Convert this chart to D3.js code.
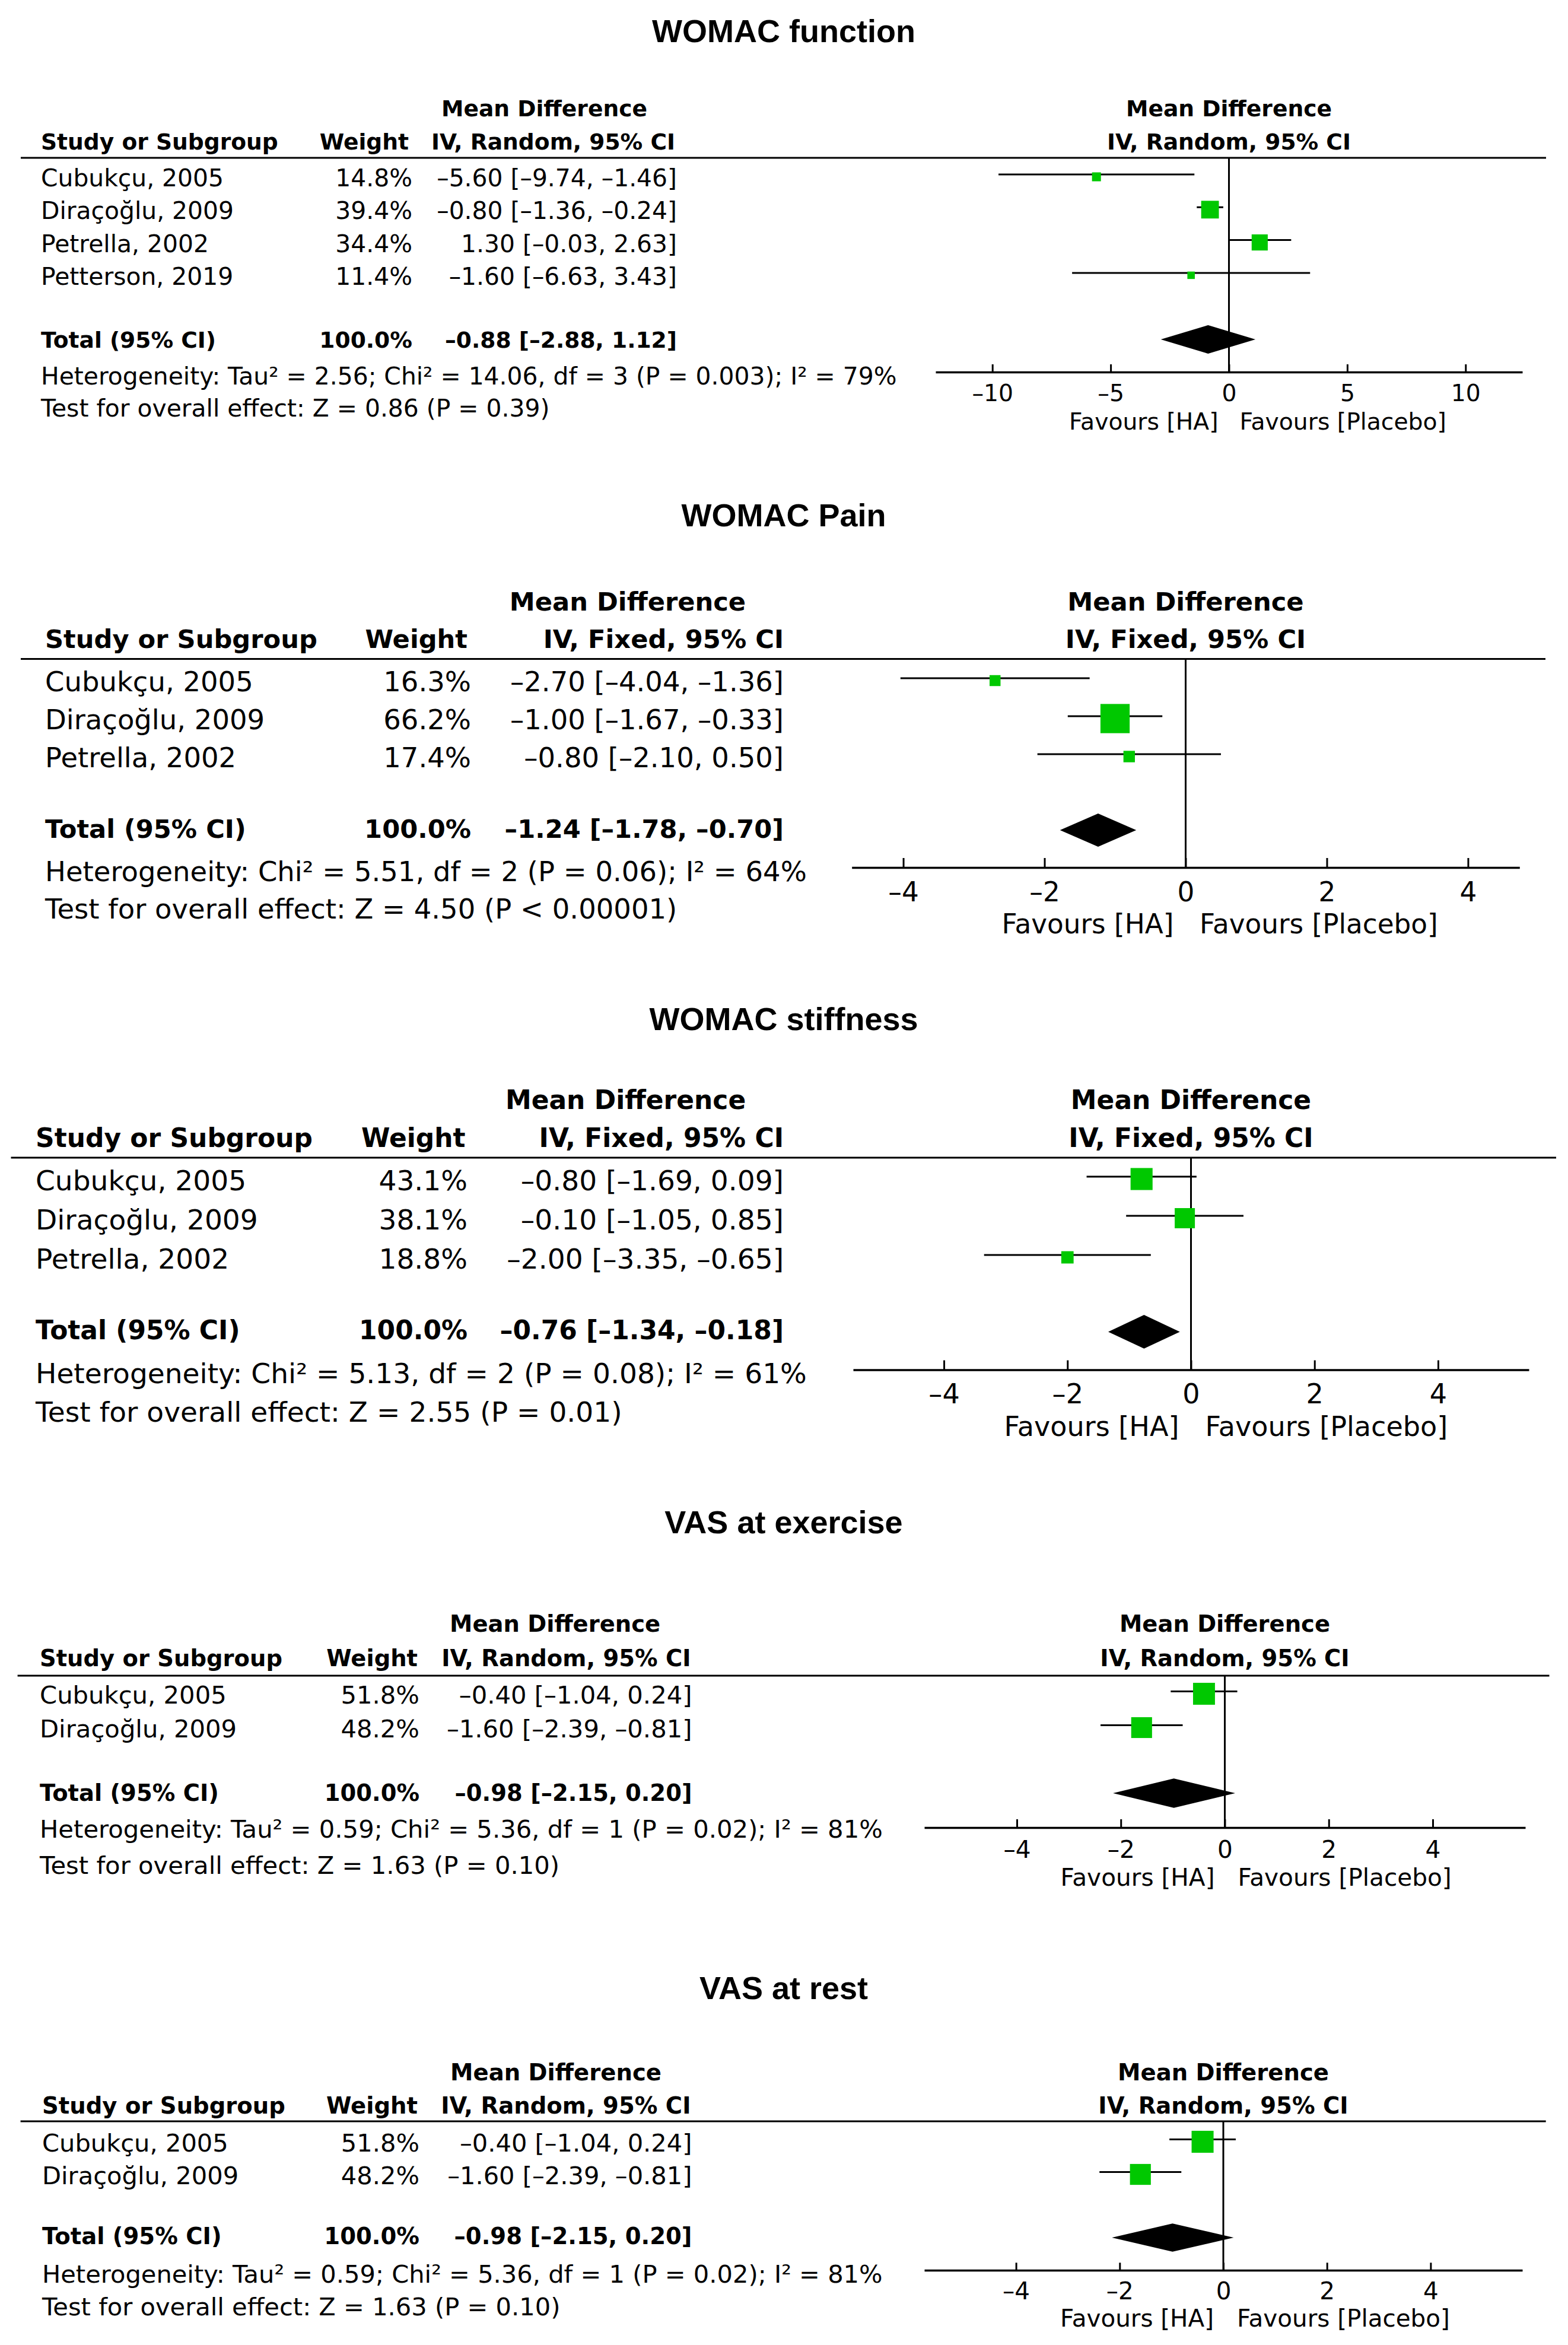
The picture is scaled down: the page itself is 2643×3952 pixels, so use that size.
<!DOCTYPE html>
<html><head><meta charset="utf-8">
<script src="https://cdn.jsdelivr.net/npm/d3@7"></script>
<style>body{margin:0;background:#fff}svg{display:block}</style>
</head><body>
<svg id="chart" width="2643" height="3952"></svg>
<script>
// ---------------- DATA ----------------
const titles = ["WOMAC function", "WOMAC Pain", "WOMAC stiffness", "VAS at exercise", "VAS at rest"];
const models = ["IV, Random, 95% CI", "IV, Fixed, 95% CI", "IV, Fixed, 95% CI", "IV, Random, 95% CI", "IV, Random, 95% CI"];

const studies1 = ["Cubukçu, 2005", "Diraçoğlu, 2009", "Petrella, 2002", "Petterson, 2019"];
const weights1 = [14.8, 39.4, 34.4, 11.4];
const md1 = [-5.60, -0.80, 1.30, -1.60];
const lo1 = [-9.74, -1.36, -0.03, -6.63];
const hi1 = [-1.46, -0.24, 2.63, 3.43];
const total1 = [-0.88, -2.88, 1.12];
const het1 = "Heterogeneity: Tau² = 2.56; Chi² = 14.06, df = 3 (P = 0.003); I² = 79%";
const test1 = "Test for overall effect: Z = 0.86 (P = 0.39)";
const ticks1 = [-10, -5, 0, 5, 10];

const studies2 = ["Cubukçu, 2005", "Diraçoğlu, 2009", "Petrella, 2002"];
const weights2 = [16.3, 66.2, 17.4];
const md2 = [-2.70, -1.00, -0.80];
const lo2 = [-4.04, -1.67, -2.10];
const hi2 = [-1.36, -0.33, 0.50];
const total2 = [-1.24, -1.78, -0.70];
const het2 = "Heterogeneity: Chi² = 5.51, df = 2 (P = 0.06); I² = 64%";
const test2 = "Test for overall effect: Z = 4.50 (P < 0.00001)";
const ticks2 = [-4, -2, 0, 2, 4];

const studies3 = ["Cubukçu, 2005", "Diraçoğlu, 2009", "Petrella, 2002"];
const weights3 = [43.1, 38.1, 18.8];
const md3 = [-0.80, -0.10, -2.00];
const lo3 = [-1.69, -1.05, -3.35];
const hi3 = [0.09, 0.85, -0.65];
const total3 = [-0.76, -1.34, -0.18];
const het3 = "Heterogeneity: Chi² = 5.13, df = 2 (P = 0.08); I² = 61%";
const test3 = "Test for overall effect: Z = 2.55 (P = 0.01)";
const ticks3 = [-4, -2, 0, 2, 4];

const studies4 = ["Cubukçu, 2005", "Diraçoğlu, 2009"];
const weights4 = [51.8, 48.2];
const md4 = [-0.40, -1.60];
const lo4 = [-1.04, -2.39];
const hi4 = [0.24, -0.81];
const total4 = [-0.98, -2.15, 0.20];
const het4 = "Heterogeneity: Tau² = 0.59; Chi² = 5.36, df = 1 (P = 0.02); I² = 81%";
const test4 = "Test for overall effect: Z = 1.63 (P = 0.10)";
const ticks4 = [-4, -2, 0, 2, 4];

const studies5 = ["Cubukçu, 2005", "Diraçoğlu, 2009"];
const weights5 = [51.8, 48.2];
const md5 = [-0.40, -1.60];
const lo5 = [-1.04, -2.39];
const hi5 = [0.24, -0.81];
const total5 = [-0.98, -2.15, 0.20];
const het5 = "Heterogeneity: Tau² = 0.59; Chi² = 5.36, df = 1 (P = 0.02); I² = 81%";
const test5 = "Test for overall effect: Z = 1.63 (P = 0.10)";
const ticks5 = [-4, -2, 0, 2, 4];

const totalWeight = 100.0;

// ---------------- LAYOUT (pixels) ----------------
const layouts = [
  {titleY:71, xStudy:69, xWH:689, xW:695, xCIH:1138, xCI:1141, xMD:917.5, h1:196, h2:251.5, lineY:266, lx0:35, lx1:2606,
   row0:314, rowStep:55.3, lineOff:20, totY:585.5, hetY:648, testY:702,
   px0:1577, px1:2566, lim:12.4, axisY:627, tick:13, tickLabY:676, favY:724, favGL:18, favGR:18,
   dY:572, dH:24, studyW:400, hetW:1443, favW:251.5},
  {titleY:887, xStudy:76, xWH:788, xW:794, xCIH:1321, xCI:1321, xMD:1058, h1:1029, h2:1092, lineY:1110.5, lx0:35, lx1:2605,
   row0:1165, rowStep:64, lineOff:22, totY:1412, hetY:1484.5, testY:1548,
   px0:1435.7, px1:2561.3, lim:4.73, axisY:1462, tick:16, tickLabY:1519, favY:1573, favGL:20, favGR:23.5,
   dY:1399, dH:28, studyW:459, hetW:1284, favW:290},
  {titleY:1736, xStudy:60, xWH:784.5, xW:788, xCIH:1321, xCI:1321, xMD:1054.6, h1:1868.7, h2:1933.2, lineY:1951, lx0:18.5, lx1:2623,
   row0:2005.5, rowStep:66, lineOff:22.5, totY:2256.5, hetY:2331, testY:2396,
   px0:1438, px1:2577, lim:5.47, axisY:2308.5, tick:16, tickLabY:2365, favY:2420, favGL:20, favGR:24,
   dY:2244.4, dH:28.4, studyW:467, hetW:1300, favW:295},
  {titleY:2584, xStudy:67, xWH:704, xW:707, xCIH:1164.5, xCI:1166.5, xMD:935.6, h1:2750, h2:2808, lineY:2824, lx0:29.6, lx1:2611.5,
   row0:2871, rowStep:57, lineOff:20.5, totY:3035, hetY:3097, testY:3158,
   px0:1558, px1:2571, lim:5.78, axisY:3080, tick:14, tickLabY:3130.5, favY:3178, favGL:17, favGR:22,
   dY:3022, dH:24.7, studyW:409, hetW:1421, favW:260},
  {titleY:3369, xStudy:71, xWH:704, xW:707, xCIH:1164.5, xCI:1166.5, xMD:937, h1:3506, h2:3561.8, lineY:3575, lx0:34.6, lx1:2605.7,
   row0:3625.5, rowStep:55, lineOff:20, totY:3781.5, hetY:3846.5, testY:3901.5,
   px0:1558, px1:2566, lim:5.77, axisY:3826, tick:12.7, tickLabY:3875, favY:3921, favGL:16, favGR:23,
   dY:3771, dH:23.8, studyW:410, hetW:1417, favW:259}
];

const panels = [
  {studies:studies1, weights:weights1, md:md1, lo:lo1, hi:hi1, total:total1, het:het1, test:test1, ticks:ticks1},
  {studies:studies2, weights:weights2, md:md2, lo:lo2, hi:hi2, total:total2, het:het2, test:test2, ticks:ticks2},
  {studies:studies3, weights:weights3, md:md3, lo:lo3, hi:hi3, total:total3, het:het3, test:test3, ticks:ticks3},
  {studies:studies4, weights:weights4, md:md4, lo:lo4, hi:hi4, total:total4, het:het4, test:test4, ticks:ticks4},
  {studies:studies5, weights:weights5, md:md5, lo:lo5, hi:hi5, total:total5, het:het5, test:test5, ticks:ticks5}
];

// ---------------- DRAW ----------------
const FONT = "'DejaVu Sans', Verdana, sans-serif";
const TFONT = "'Liberation Sans', Arial, sans-serif";
const GREEN = "#00c800";
const loc = d3.formatLocale({decimal: ".", thousands: ",", grouping: [3], currency: ["", ""], minus: "\u2013"});
const f2 = loc.format(".2f"), f1 = loc.format(".1f"), f0 = loc.format("d");
const svg = d3.select("#chart");

function fit(str, weight, target) {
  const t = svg.append("text").attr("font-family", FONT).attr("font-size", 100)
    .attr("font-weight", weight).text(str);
  const w = t.node().getComputedTextLength();
  t.remove();
  return 100 * target / w;
}

function txt(g, str, x, y, size, weight, anchor, family) {
  return g.append("text").attr("x", x).attr("y", y)
    .attr("font-family", family || FONT).attr("font-size", size)
    .attr("font-weight", weight).attr("text-anchor", anchor).attr("fill", "#000").text(str);
}

panels.forEach((D, p) => {
  const L = layouts[p];
  const g = svg.append("g");
  const fsB = fit("Study or Subgroup", "bold", L.studyW);
  const fsR = fit(D.het, "normal", L.hetW);
  const fsA = fit("Favours [HA]", "normal", L.favW);
  const x = d3.scaleLinear().domain([-L.lim, L.lim]).range([L.px0, L.px1]);
  const x0 = x(0);

  // title
  txt(g, titles[p], 1321, L.titleY, 54, "bold", "middle", TFONT);

  // headers
  txt(g, "Mean Difference", L.xMD, L.h1, fsB, "bold", "middle");
  txt(g, "Study or Subgroup", L.xStudy, L.h2, fsB, "bold", "start");
  txt(g, "Weight", L.xWH, L.h2, fsB, "bold", "end");
  txt(g, models[p], L.xCIH, L.h2, fsB, "bold", "end");
  txt(g, "Mean Difference", x0, L.h1, fsB, "bold", "middle");
  txt(g, models[p], x0, L.h2, fsB, "bold", "middle");
  g.append("line").attr("x1", L.lx0).attr("x2", L.lx1).attr("y1", L.lineY).attr("y2", L.lineY)
    .attr("stroke", "#000").attr("stroke-width", 3.2);

  // zero line
  g.append("line").attr("x1", x0).attr("x2", x0).attr("y1", L.lineY).attr("y2", L.axisY)
    .attr("stroke", "#000").attr("stroke-width", 3);

  // study rows
  const k = 0.0057 * L.studyW;
  const sz = d3.scalePow().exponent(0.7).domain([0, 100]).range([0, k * Math.pow(100, 0.7)]);
  D.studies.forEach((s, i) => {
    const yb = L.row0 + i * L.rowStep;
    txt(g, s, L.xStudy, yb, fsR, "normal", "start");
    txt(g, f1(D.weights[i]) + "%", L.xW, yb, fsR, "normal", "end");
    txt(g, f2(D.md[i]) + " [" + f2(D.lo[i]) + ", " + f2(D.hi[i]) + "]", L.xCI, yb, fsR, "normal", "end");
    const yl = yb - L.lineOff;
    g.append("line").attr("x1", x(D.lo[i])).attr("x2", x(D.hi[i])).attr("y1", yl).attr("y2", yl)
      .attr("stroke", "#000").attr("stroke-width", 3);
    const s2 = sz(D.weights[i]);
    g.append("rect").attr("x", x(D.md[i]) - s2 / 2).attr("y", yl + 4 - s2 / 2)
      .attr("width", s2).attr("height", s2).attr("fill", GREEN);
  });

  // total
  txt(g, "Total (95% CI)", L.xStudy, L.totY, fsB, "bold", "start");
  txt(g, f1(totalWeight) + "%", L.xW, L.totY, fsB, "bold", "end");
  txt(g, f2(D.total[0]) + " [" + f2(D.total[1]) + ", " + f2(D.total[2]) + "]", L.xCI, L.totY, fsB, "bold", "end");
  const [tm, tl, th] = D.total;
  g.append("path").attr("d", d3.line()([[x(tl), L.dY], [x(tm), L.dY - L.dH], [x(th), L.dY], [x(tm), L.dY + L.dH]]) + "Z")
    .attr("fill", "#000");

  txt(g, D.het, L.xStudy, L.hetY, fsR, "normal", "start");
  txt(g, D.test, L.xStudy, L.testY, fsR, "normal", "start");

  // axis
  const ax = g.append("g").attr("transform", `translate(0,${L.axisY})`)
    .call(d3.axisBottom(x).tickValues(D.ticks).tickFormat(f0).tickSizeInner(-L.tick).tickSizeOuter(0));
  ax.select(".domain").attr("stroke", "#000").attr("stroke-width", 3.5);
  ax.selectAll(".tick line").attr("stroke", "#000").attr("stroke-width", 3);
  ax.selectAll(".tick text").attr("y", L.tickLabY - L.axisY).attr("dy", null)
    .attr("font-family", FONT).attr("font-size", fsA).attr("fill", "#000");

  txt(g, "Favours [HA]", x0 - L.favGL, L.favY, fsA, "normal", "end");
  txt(g, "Favours [Placebo]", x0 + L.favGR, L.favY, fsA, "normal", "start");
});
</script>
</body></html>
